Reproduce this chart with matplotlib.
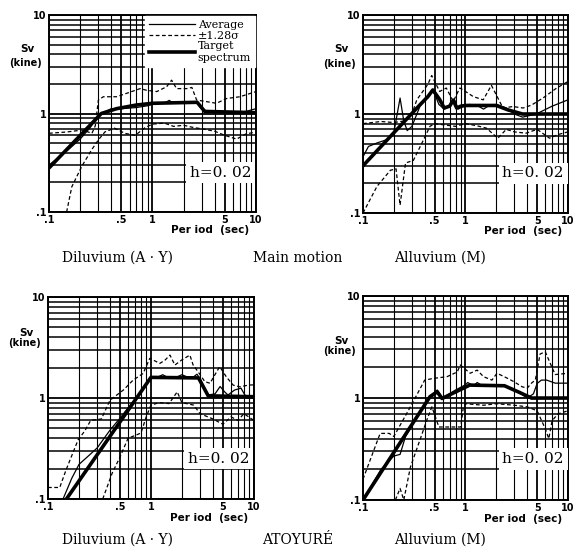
import matplotlib
matplotlib.use("Agg")
import matplotlib.pyplot as plt
from matplotlib.lines import Line2D
from matplotlib.ticker import FixedLocator, NullFormatter, LogLocator

# ---------------- data ----------------
# Panel 1: Diluvium (A.Y), main motion
p1_target_T = [0.1, 0.32, 0.45, 0.7, 1.0, 2.7, 3.2, 10]
p1_target_S = [0.28, 1.0, 1.12, 1.22, 1.27, 1.3, 1.05, 1.02]
p1_avg_T = [0.1, 0.15, 0.2, 0.25, 0.3, 0.4, 0.5, 0.7, 0.9, 1.1, 1.3, 1.45, 1.6, 1.8, 2.2, 2.7, 3.0, 3.5, 4.5, 6, 8, 10]
p1_avg_S = [0.3, 0.42, 0.55, 0.72, 0.95, 1.12, 1.12, 1.15, 1.2, 1.28, 1.27, 1.36, 1.27, 1.3, 1.3, 1.28, 1.1, 1.05, 1.02, 1.0, 1.05, 1.12]
p1_up_T = [0.1, 0.15, 0.21, 0.26, 0.28, 0.3, 0.335, 0.45, 0.56, 0.76, 0.88, 1.1, 1.37, 1.53, 1.71, 2.15, 2.4, 2.67, 3.33, 4.15, 5.2, 7.0, 10]
p1_up_S = [0.63, 0.65, 0.68, 0.63, 0.75, 1.37, 1.48, 1.48, 1.6, 1.79, 1.72, 1.67, 1.87, 2.18, 1.79, 1.79, 1.84, 1.37, 1.32, 1.27, 1.42, 1.48, 1.67]
p1_lo_T = [0.148, 0.166, 0.207, 0.259, 0.3, 0.347, 0.43, 0.54, 0.68, 0.85, 1.0, 1.3, 1.6, 2.0, 2.5, 3.0, 4.0, 5.0, 6.5, 8.0, 10]
p1_lo_S = [0.1, 0.18, 0.29, 0.43, 0.54, 0.65, 0.71, 0.63, 0.6, 0.72, 0.78, 0.8, 0.74, 0.76, 0.72, 0.7, 0.66, 0.6, 0.55, 0.62, 0.65]

# Panel 2: Alluvium (M), main motion
p2_target_T = [0.1, 0.36, 0.43, 0.48, 0.56, 0.62, 0.7, 0.76, 0.82, 0.9, 1.0, 2.0, 2.6, 3.6, 10]
p2_target_S = [0.3, 1.24, 1.5, 1.75, 1.4, 1.15, 1.2, 1.38, 1.15, 1.2, 1.22, 1.22, 1.1, 1.0, 1.0]
p2_avg_T = [0.1, 0.113, 0.137, 0.17, 0.2, 0.23, 0.25, 0.27, 0.3, 0.36, 0.43, 0.48, 0.55, 0.62, 0.7, 0.78, 0.85, 0.95, 1.1, 1.3, 1.5, 1.7, 2.0, 2.5, 3.0, 3.6, 4.9, 7, 10]
p2_avg_S = [0.37, 0.47, 0.51, 0.55, 0.65, 1.45, 0.85, 0.68, 0.75, 1.2, 1.5, 1.77, 1.25, 1.12, 1.2, 1.4, 1.12, 1.2, 1.25, 1.22, 1.12, 1.22, 1.25, 1.15, 1.0, 0.93, 1.0, 1.2, 1.39]
p2_up_T = [0.1, 0.15, 0.2, 0.25, 0.3, 0.335, 0.385, 0.43, 0.468, 0.56, 0.65, 0.76, 0.88, 0.95, 1.19, 1.49, 1.79, 2.32, 2.9, 3.65, 4.4, 5.7, 7.7, 10]
p2_up_S = [0.8, 0.84, 0.82, 0.85, 1.0, 1.39, 1.7, 2.0, 2.45, 1.69, 1.83, 1.34, 1.83, 1.75, 1.5, 1.39, 1.95, 1.15, 1.19, 1.15, 1.23, 1.45, 1.82, 2.13]
p2_lo_T = [0.1, 0.137, 0.185, 0.21, 0.23, 0.245, 0.26, 0.31, 0.39, 0.45, 0.5, 0.6, 0.8, 1.0, 1.3, 1.6, 2.07, 2.5, 3.0, 3.9, 5.0, 6.6, 8.0, 10]
p2_lo_S = [0.1, 0.186, 0.27, 0.28, 0.12, 0.2, 0.32, 0.34, 0.55, 0.75, 0.8, 0.78, 0.75, 0.8, 0.76, 0.72, 0.57, 0.7, 0.66, 0.64, 0.7, 0.57, 0.62, 0.66]

# Panel 3: Diluvium (A.Y), ATOYURE
p3_target_T = [0.151, 1.0, 2.9, 3.6, 10]
p3_target_S = [0.1, 1.6, 1.58, 1.05, 1.03]
p3_avg_T = [0.14, 0.17, 0.2, 0.25, 0.3, 0.4, 0.5, 0.6, 0.75, 0.9, 1.0, 1.15, 1.3, 1.45, 1.7, 2.0, 2.3, 2.6, 2.8, 3.0, 3.6, 4.2, 4.7, 5.2, 5.6, 6.5, 7.5, 8.5, 10]
p3_avg_S = [0.1, 0.16, 0.22, 0.27, 0.32, 0.48, 0.63, 0.8, 1.05, 1.35, 1.6, 1.6, 1.7, 1.6, 1.58, 1.7, 1.6, 1.62, 1.72, 1.55, 1.07, 1.1, 1.3, 1.15, 1.07, 1.2, 1.25, 1.0, 1.0]
p3_up_T = [0.1, 0.13, 0.15, 0.196, 0.227, 0.26, 0.33, 0.4, 0.54, 0.67, 0.84, 0.975, 1.22, 1.37, 1.53, 1.71, 1.98, 2.39, 2.57, 2.87, 3.34, 3.75, 4.35, 4.66, 5.4, 6.3, 7.3, 8.8, 10]
p3_up_S = [0.13, 0.13, 0.195, 0.385, 0.47, 0.6, 0.62, 0.95, 1.2, 1.5, 1.75, 2.47, 2.2, 2.37, 2.66, 2.12, 2.37, 2.66, 2.12, 1.82, 1.45, 1.4, 1.82, 2.04, 1.62, 1.34, 1.29, 1.34, 1.35]
p3_lo_T = [0.34, 0.42, 0.5, 0.6, 0.72, 0.8, 0.9, 1.0, 1.2, 1.5, 1.8, 2.0, 2.6, 3.0, 4.0, 5.0, 6.0, 7.0, 8.0, 10]
p3_lo_S = [0.1, 0.18, 0.26, 0.4, 0.43, 0.45, 0.65, 0.85, 0.9, 0.88, 1.15, 0.9, 0.85, 0.7, 0.62, 0.55, 0.65, 0.6, 0.7, 0.6]

# Panel 4: Alluvium (M), ATOYURE
p4_target_T = [0.1, 0.45, 0.53, 0.59, 1.1, 2.4, 3.4, 4.4, 10]
p4_target_S = [0.1, 1.03, 1.15, 0.99, 1.34, 1.32, 1.13, 1.0, 1.0]
p4_avg_T = [0.1, 0.15, 0.2, 0.23, 0.26, 0.35, 0.45, 0.53, 0.6, 0.8, 1.0, 1.05, 1.2, 1.3, 1.5, 2.0, 2.5, 3.0, 3.5, 4.0, 4.6, 5.0, 5.5, 6.2, 7.5, 10]
p4_avg_S = [0.1, 0.2, 0.27, 0.28, 0.42, 0.7, 1.05, 1.2, 1.0, 1.2, 1.35, 1.42, 1.32, 1.42, 1.3, 1.32, 1.3, 1.2, 1.1, 1.0, 1.1, 1.39, 1.5, 1.5, 1.4, 1.4]
p4_up_T = [0.1, 0.147, 0.18, 0.2, 0.29, 0.4, 0.49, 0.66, 0.83, 0.89, 1.11, 1.3, 1.5, 1.81, 2.03, 2.45, 2.96, 3.57, 4.0, 4.4, 4.8, 5.34, 6.0, 6.7, 7.5, 10]
p4_up_S = [0.16, 0.45, 0.45, 0.42, 0.82, 1.5, 1.56, 1.62, 1.8, 2.11, 1.75, 1.88, 1.62, 1.5, 1.75, 1.6, 1.45, 1.29, 1.25, 1.4, 1.5, 2.7, 2.85, 2.2, 1.7, 1.75]
p4_lo_T = [0.207, 0.23, 0.25, 0.29, 0.36, 0.42, 0.47, 0.55, 0.7, 0.9, 0.95, 1.0, 1.5, 2.0, 3.0, 4.0, 5.0, 6.0, 6.5, 7.0, 8.0, 10]
p4_lo_S = [0.1, 0.13, 0.1, 0.21, 0.39, 0.61, 0.82, 0.52, 0.52, 0.52, 0.8, 0.88, 0.85, 0.88, 0.85, 0.82, 0.75, 0.5, 0.4, 0.6, 0.7, 0.75]

x_ticks = [0.1, 0.5, 1, 5, 10]
x_ticklabels = [".1", ".5", "1", "5", "10"]
y_ticks = [0.1, 1, 10]
y_ticklabels = [".1", "1", "10"]

captions_top = ["Diluvium (A \u00b7 Y)", "Main motion", "Alluvium (M)"]
captions_bottom = ["Diluvium (A \u00b7 Y)", "ATOYUR\u00c9", "Alluvium (M)"]
legend_labels = ["Average", "\u00b11.28\u03c3", "Target\nspectrum"]
damping_label = "h=0. 02"

# ---------------- figure ----------------
fig = plt.figure(figsize=(5.75, 5.54), dpi=100)
fig.patch.set_facecolor("white")

positions = [
    [0.0852, 0.6173, 0.360, 0.3556],
    [0.6313, 0.6155, 0.3565, 0.3574],
    [0.0835, 0.0993, 0.358, 0.3646],
    [0.6313, 0.0975, 0.3565, 0.368],
]
panels = [
    (p1_target_T, p1_target_S, p1_avg_T, p1_avg_S, p1_up_T, p1_up_S, p1_lo_T, p1_lo_S),
    (p2_target_T, p2_target_S, p2_avg_T, p2_avg_S, p2_up_T, p2_up_S, p2_lo_T, p2_lo_S),
    (p3_target_T, p3_target_S, p3_avg_T, p3_avg_S, p3_up_T, p3_up_S, p3_lo_T, p3_lo_S),
    (p4_target_T, p4_target_S, p4_avg_T, p4_avg_S, p4_up_T, p4_up_S, p4_lo_T, p4_lo_S),
]
sv_y = [(0.83, 0.755), (0.83, 0.755), (0.82, 0.77), (0.78, 0.73)]

tick_font = dict(family="DejaVu Sans", size=7, weight="bold")

for i, (pos, data) in enumerate(zip(positions, panels)):
    tT, tS, aT, aS, uT, uS, lT, lS = data
    ax = fig.add_axes(pos)
    ax.set_xscale("log")
    ax.set_yscale("log")
    ax.set_xlim(0.1, 10)
    ax.set_ylim(0.1, 10)
    ax.xaxis.set_major_locator(FixedLocator(x_ticks))
    ax.set_xticklabels(x_ticklabels, fontdict=tick_font)
    ax.yaxis.set_major_locator(FixedLocator(y_ticks))
    ax.set_yticklabels(y_ticklabels, fontdict=tick_font)
    ax.xaxis.set_minor_locator(LogLocator(base=10, subs=range(2, 10)))
    ax.yaxis.set_minor_locator(LogLocator(base=10, subs=range(2, 10)))
    ax.xaxis.set_minor_formatter(NullFormatter())
    ax.yaxis.set_minor_formatter(NullFormatter())
    ax.tick_params(which="both", length=0, pad=2)
    ax.grid(True, which="major", axis="both", color="black", lw=1.3)
    ax.grid(True, which="minor", axis="y", color="black", lw=1.1)
    ax.grid(True, which="minor", axis="x", color="black", lw=0.8)
    for sp in ax.spines.values():
        sp.set_linewidth(1.4)
    ax.set_axisbelow(True)

    ax.plot(uT, uS, color="black", lw=0.9, ls=(0, (3, 2)), zorder=3)
    ax.plot(lT, lS, color="black", lw=0.9, ls=(0, (3, 2)), zorder=3)
    ax.plot(aT, aS, color="black", lw=0.9, zorder=3)
    ax.plot(tT, tS, color="black", lw=2.6, zorder=4)

    ax.text(0.83, 0.2, damping_label, transform=ax.transAxes, ha="center", va="center",
            fontsize=11, family="DejaVu Serif", zorder=6,
            bbox=dict(boxstyle="square,pad=0.25", fc="white", ec="none"))

    ax.text(-0.105, sv_y[i][0], "Sv", transform=ax.transAxes, ha="center", va="center",
            fontsize=7.5, weight="bold", family="DejaVu Sans")
    ax.text(-0.115, sv_y[i][1], "(kine)", transform=ax.transAxes, ha="center", va="center",
            fontsize=7, weight="bold", family="DejaVu Sans")
    ax.text(0.78, -0.092, "Per iod  (sec)", transform=ax.transAxes, ha="center", va="center",
            fontsize=7.5, weight="bold", family="DejaVu Sans")

    if i == 0:
        handles = [Line2D([], [], color="black", lw=0.9),
                   Line2D([], [], color="black", lw=0.9, ls=(0, (3, 2))),
                   Line2D([], [], color="black", lw=2.6)]
        leg = ax.legend(handles, legend_labels, loc="upper right", frameon=True,
                        fancybox=False, framealpha=1, edgecolor="white",
                        prop=dict(family="DejaVu Serif", size=8),
                        handlelength=4.2, handletextpad=0.2, labelspacing=0.05,
                        borderpad=0.35, borderaxespad=0.1)
        leg.set_zorder(7)

for x, txt in zip([118 / 575, 298 / 575, 440 / 575], captions_top):
    fig.text(x, 1 - 258 / 554, txt, ha="center", va="center", fontsize=10, family="DejaVu Serif")
for x, txt in zip([118 / 575, 298 / 575, 440 / 575], captions_bottom):
    fig.text(x, 1 - 540 / 554, txt, ha="center", va="center", fontsize=10, family="DejaVu Serif")

fig.savefig("out.png", dpi=100, facecolor="white")
